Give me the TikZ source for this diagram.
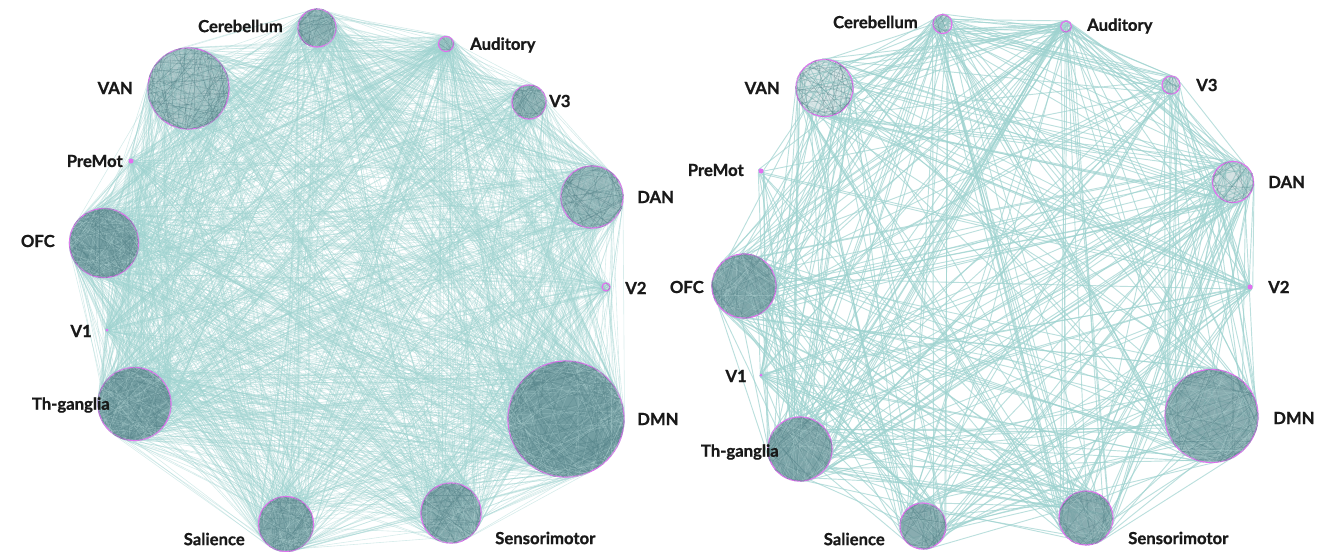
\documentclass[tikz,border=0pt]{standalone}
\usepackage{fontspec}
\setmainfont{Lato}
\newfontfamily\lblfont{Lato}[BoldFeatures={FakeBold=1}]
\usepackage{tikz}

\pgfdeclarelayer{edgelayer}
\pgfsetlayers{edgelayer,main}

\definecolor{edgeteal}{RGB}{158,210,207}
\definecolor{clusterteal}{RGB}{116,158,162}
\definecolor{chordteal}{RGB}{86,132,138}
\definecolor{chordpale}{RGB}{178,212,212}
\definecolor{ringpink}{RGB}{226,112,240}
\definecolor{labelblack}{RGB}{25,25,25}

% weighted lists: bigger clusters send more edges
\pgfmathdeclarerandomlist{leftnet}{{lDMN}{lDMN}{lDMN}{lDMN}{lDMN}{lDMN}{lOFC}{lOFC}{lOFC}{lOFC}{lOFC}{lTh}{lTh}{lTh}{lTh}{lTh}{lVAN}{lVAN}{lVAN}{lVAN}{lDAN}{lDAN}{lDAN}{lSal}{lSal}{lSal}{lSens}{lSens}{lSens}{lCer}{lCer}{lCer}{lV3}{lV3}{lAud}{lAud}{lAud}{lV2}{lPre}{lV1}}
\pgfmathdeclarerandomlist{rightnet}{{rDMN}{rDMN}{rDMN}{rDMN}{rDMN}{rTh}{rTh}{rTh}{rTh}{rTh}{rOFC}{rOFC}{rOFC}{rOFC}{rVAN}{rVAN}{rVAN}{rVAN}{rDAN}{rDAN}{rDAN}{rDAN}{rSal}{rSal}{rSal}{rSens}{rSens}{rSens}{rCer}{rCer}{rCer}{rAud}{rAud}{rAud}{rV3}{rV3}{rV2}{rPre}{rV1}}

\begin{document}
\begin{tikzpicture}[x=0.75pt,y=0.75pt,yscale=-1,xscale=1,
  cluster/.style={circle, draw=ringpink, line width=0.9pt, fill=clusterteal, inner sep=0pt, minimum size=#1*1.5pt},
  tinydot/.style={circle, fill=ringpink, inner sep=0pt, minimum size=#1*1.5pt},
  lbl/.style={font=\lblfont\fontsize{12.5}{14}\selectfont\bfseries, text=labelblack, inner sep=0pt},
  edgeL/.style={draw=edgeteal, line width=0.45pt, draw opacity=0.42},
  edgeR/.style={draw=edgeteal, line width=0.7pt, draw opacity=0.7},
  chord/.style={draw=chordteal, line width=0.4pt, draw opacity=0.45, shorten >=1pt, shorten <=1pt},
  chordlight/.style={draw=chordpale, line width=0.35pt, draw opacity=0.35, shorten >=1pt, shorten <=1pt}]
\useasboundingbox (0,0) rectangle (1321,551);
\pgfmathsetseed{2718}

%Left network, clusters
\node [cluster=19, fill opacity=0.75] (lCer) at (317,28) {};
\node [cluster=7.5, fill opacity=0.4] (lAud) at (446,44) {};
\node [cluster=40.5, fill opacity=0.55] (lVAN) at (188.5,88.5) {};
\node [cluster=17, fill opacity=0.75] (lV3) at (529,102) {};
\node [tinydot=2.5] (lPre) at (131,161) {};
\node [cluster=31, fill opacity=0.7] (lDAN) at (592,197) {};
\node [cluster=34.5] (lOFC) at (104,243) {};
\node [cluster=4, fill opacity=0.2] (lV2) at (606,287) {};
\node [tinydot=1.5] (lV1) at (107,330) {};
\node [cluster=36.5] (lTh) at (134.5,404) {};
\node [cluster=58] (lDMN) at (566,419) {};
\node [cluster=27.5, fill opacity=0.9] (lSal) at (286,524) {};
\node [cluster=30, fill opacity=0.85] (lSens) at (451,513) {};

%Right network, clusters
\node [cluster=9.5, fill opacity=0.3] (rCer) at (942.5,24) {};
\node [cluster=5.5, fill opacity=0.1] (rAud) at (1066,26.5) {};
\node [cluster=28.5, fill opacity=0.25] (rVAN) at (824.5,88) {};
\node [cluster=9, fill opacity=0.3] (rV3) at (1171,85) {};
\node [tinydot=2.5] (rPre) at (761,171) {};
\node [cluster=20.5, fill opacity=0.3] (rDAN) at (1233,182) {};
\node [cluster=32, fill opacity=0.9] (rOFC) at (744,286) {};
\node [tinydot=2.5] (rV2) at (1250,287) {};
\node [tinydot=1.5] (rV1) at (761,375) {};
\node [cluster=32, fill opacity=0.9] (rTh) at (800,449) {};
\node [cluster=46.5, fill opacity=0.85] (rDMN) at (1211.5,416) {};
\node [cluster=23, fill opacity=0.85] (rSal) at (923,526) {};
\node [cluster=27, fill opacity=0.85] (rSens) at (1086,518) {};

%Within-cluster links
\foreach \n/\k in {lDMN/130,lOFC/90,lTh/90,lVAN/110,lDAN/70,lSal/60,lSens/60,lCer/45,lV3/40,lAud/8,lV2/3,
                   rDMN/80,rOFC/55,rTh/55,rVAN/45,rDAN/25,rSal/35,rSens/40,rCer/10,rV3/10,rAud/3}{
  \foreach \i in {1,...,\k}{
    \pgfmathrandominteger{\aa}{0}{359}
    \pgfmathrandominteger{\ab}{0}{359}
    \draw [chord] (\n.\aa) -- (\n.\ab);
    \pgfmathrandominteger{\aa}{0}{359}
    \pgfmathrandominteger{\ab}{0}{359}
    \draw [chordlight] (\n.\aa) -- (\n.\ab);
  }
}

%Between-cluster links
\begin{pgfonlayer}{edgelayer}
\foreach \i in {1,...,1900}{
  \pgfmathrandomitem{\na}{leftnet}
  \pgfmathrandomitem{\nb}{leftnet}
  \pgfmathrandominteger{\aa}{0}{359}
  \pgfmathrandominteger{\ab}{0}{359}
  \draw [edgeL] (\na.\aa) -- (\nb.\ab);
}
\foreach \i in {1,...,480}{
  \pgfmathrandomitem{\na}{rightnet}
  \pgfmathrandomitem{\nb}{rightnet}
  \pgfmathrandominteger{\aa}{0}{359}
  \pgfmathrandominteger{\ab}{0}{359}
  \draw [edgeR] (\na.\aa) -- (\nb.\ab);
}
\end{pgfonlayer}

% Text Node
\node [lbl, anchor=east] (tlCer) at (283,26) {Cerebellum};
\node [lbl, anchor=west] (tlAud) at (470,45) {Auditory};
\node [lbl, anchor=east] (tlVAN) at (133,88) {VAN};
\node [lbl, anchor=west] (tlV3) at (549,101) {V3};
\node [lbl, anchor=east] (tlPre) at (123,161) {PreMot};
\node [lbl, anchor=west] (tlDAN) at (637,197) {DAN};
\node [lbl, anchor=east] (tlOFC) at (55,241) {OFC};
\node [lbl, anchor=west] (tlV2) at (625,288) {V2};
\node [lbl, anchor=east] (tlV1) at (92,331) {V1};
\node [lbl, anchor=east] (tlTh) at (110,405) {Th-ganglia};
\node [lbl, anchor=west] (tlDMN) at (637,419) {DMN};
\node [lbl, anchor=east] (tlSal) at (245,539) {Salience};
\node [lbl, anchor=west] (tlSens) at (495,538) {Sensorimotor};
% Text Node
\node [lbl, anchor=east] (trCer) at (918,22) {Cerebellum};
\node [lbl, anchor=west] (trAud) at (1087,26) {Auditory};
\node [lbl, anchor=east] (trVAN) at (780,88) {VAN};
\node [lbl, anchor=west] (trV3) at (1196,85) {V3};
\node [lbl, anchor=east] (trPre) at (744,170) {PreMot};
\node [lbl, anchor=west] (trDAN) at (1268,182) {DAN};
\node [lbl, anchor=east] (trOFC) at (704,287) {OFC};
\node [lbl, anchor=west] (trV2) at (1268,287) {V2};
\node [lbl, anchor=east] (trV1) at (747,376) {V1};
\node [lbl, anchor=east] (trTh) at (779,452) {Th-ganglia};
\node [lbl, anchor=west] (trDMN) at (1273,418) {DMN};
\node [lbl, anchor=east] (trSal) at (885,539) {Salience};
\node [lbl, anchor=west] (trSens) at (1128,538) {Sensorimotor};

\end{tikzpicture}
\end{document}
